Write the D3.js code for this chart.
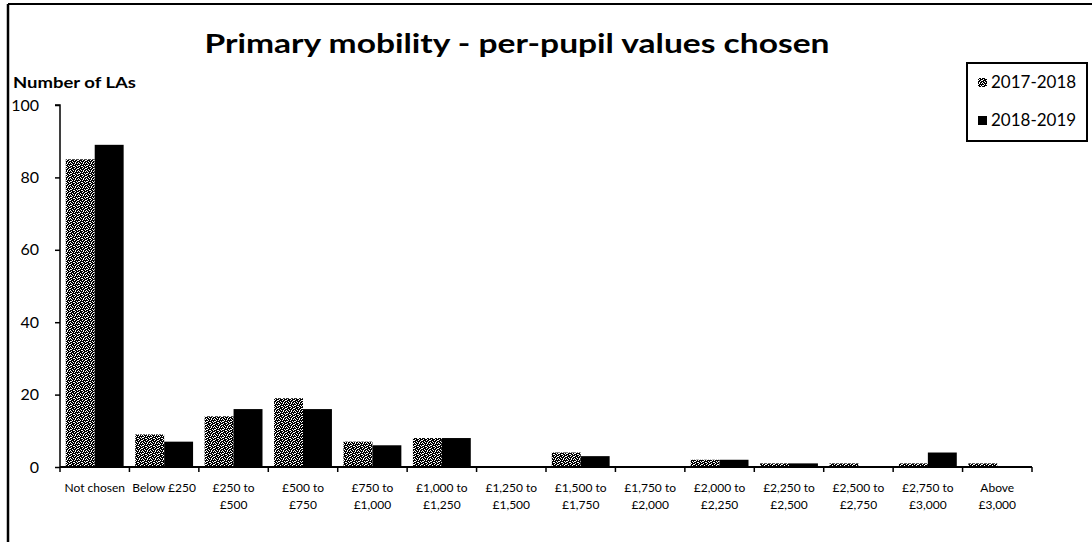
<!DOCTYPE html>
<html>
<head>
<meta charset="utf-8">
<script src="https://cdn.jsdelivr.net/npm/d3@7"></script>
<style>
  html, body { margin: 0; padding: 0; background: #fff; }
  svg { display: block; }
  text { font-family: Lato, "Open Sans", sans-serif; fill: #000; }
</style>
</head>
<body>
<div id="chart"></div>
<script>
// Primary mobility - per-pupil values chosen

const categories = [
  ["Not chosen"],
  ["Below £250"],
  ["£250 to", "£500"],
  ["£500 to", "£750"],
  ["£750 to", "£1,000"],
  ["£1,000 to", "£1,250"],
  ["£1,250 to", "£1,500"],
  ["£1,500 to", "£1,750"],
  ["£1,750 to", "£2,000"],
  ["£2,000 to", "£2,250"],
  ["£2,250 to", "£2,500"],
  ["£2,500 to", "£2,750"],
  ["£2,750 to", "£3,000"],
  ["Above", "£3,000"]
];
const seriesNames = ["2017-2018", "2018-2019"];
const values2017 = [85, 9, 14, 19, 7, 8, 0, 4, 0, 2, 1, 1, 1, 1];
const values2018 = [89, 7, 16, 16, 6, 8, 0, 3, 0, 2, 1, 0, 4, 0];
const yTicks = [0, 20, 40, 60, 80, 100];

const width = 1092;
const height = 542;
const margin = { top: 105, right: 60, bottom: 75, left: 60 };

const svg = d3.select("#chart")
  .append("svg")
  .attr("width", width)
  .attr("height", height);

// motif pointillé pour la série 2017-2018
const dither = [
  "11011001",
  "01110111",
  "10101101",
  "11101010",
  "01011111",
  "11110100",
  "10011011",
  "11101110"
];
const pat = svg.append("defs").append("pattern")
  .attr("id", "speckle")
  .attr("patternUnits", "userSpaceOnUse")
  .attr("width", 8)
  .attr("height", 8);
pat.append("rect").attr("width", 8).attr("height", 8).attr("fill", "#000");
dither.forEach((row, j) => {
  row.split("").forEach((c, i) => {
    if (c === "0") {
      pat.append("rect")
        .attr("x", i).attr("y", j)
        .attr("width", 1).attr("height", 1)
        .attr("fill", "#fff");
    }
  });
});

// cadre
svg.append("line")
  .attr("x1", 8).attr("x2", width).attr("y1", 4).attr("y2", 4)
  .attr("stroke", "#000").attr("stroke-width", 2);
svg.append("line")
  .attr("x1", 8).attr("x2", 8).attr("y1", 4).attr("y2", height)
  .attr("stroke", "#000").attr("stroke-width", 2.5);

// titre
svg.append("text")
  .attr("x", 517)
  .attr("y", 53)
  .attr("text-anchor", "middle")
  .attr("textLength", 625)
  .attr("lengthAdjust", "spacingAndGlyphs")
  .style("font-size", "27px")
  .style("font-weight", "bold")
  .text("Primary mobility - per-pupil values chosen");

svg.append("text")
  .attr("x", 13)
  .attr("y", 88)
  .attr("textLength", 123)
  .attr("lengthAdjust", "spacingAndGlyphs")
  .style("font-size", "16px")
  .style("font-weight", "bold")
  .text("Number of LAs");

const x0 = d3.scaleBand()
  .domain(d3.range(categories.length))
  .range([margin.left, width - margin.right])
  .paddingInner(0)
  .paddingOuter(0);

const x1 = d3.scaleBand()
  .domain([0, 1])
  .range([0, x0.bandwidth()])
  .paddingOuter(0.2)
  .paddingInner(0);

const y = d3.scaleLinear()
  .domain([0, 100])
  .range([height - margin.bottom, margin.top]);

// Axe Y
const yAxis = svg.append("g")
  .attr("transform", `translate(${margin.left},0)`)
  .call(d3.axisLeft(y).tickValues(yTicks).tickSize(5).tickPadding(16));
yAxis.selectAll("path, line").attr("stroke", "#000").attr("stroke-width", 1.5);
yAxis.select(".domain").attr("d", `M-5,${y(100)}H0V${y(0)}`);
yAxis.selectAll("text")
  .style("font-size", "16px")
  .style("font-family", "Lato, sans-serif");

// Barres
const series = [values2017, values2018];
const fills = ["url(#speckle)", "#000"];
series.forEach((vals, s) => {
  svg.append("g")
    .selectAll("rect")
    .data(vals)
    .join("rect")
    .attr("x", (d, i) => x0(i) + x1(s))
    .attr("width", x1.bandwidth())
    .attr("y", d => y(d))
    .attr("height", d => y(0) - y(d))
    .attr("fill", fills[s]);
});

// Axe X
const xAxis = svg.append("g")
  .attr("transform", `translate(0,${y(0)})`);
xAxis.append("line")
  .attr("x1", x0.range()[0]).attr("x2", x0.range()[1])
  .attr("stroke", "#000").attr("stroke-width", 2);
const boundaries = d3.range(categories.length + 1)
  .map(i => x0.range()[0] + i * x0.step());
xAxis.selectAll("line.tick")
  .data(boundaries)
  .join("line")
  .attr("class", "tick")
  .attr("x1", d => d).attr("x2", d => d)
  .attr("y1", 0).attr("y2", 5)
  .attr("stroke", "#000").attr("stroke-width", 1.5);

const labels = xAxis.selectAll("text.xlab")
  .data(categories)
  .join("text")
  .attr("class", "xlab")
  .attr("x", (d, i) => x0(i) + x0.bandwidth() / 2)
  .attr("y", 25)
  .attr("text-anchor", "middle")
  .style("font-size", "12px");
labels.each(function(lines) {
  const t = d3.select(this);
  lines.forEach((l, k) => {
    t.append("tspan")
      .attr("x", t.attr("x"))
      .attr("dy", k === 0 ? 0 : 17)
      .text(l);
  });
});

// Légende
const legend = svg.append("g");
legend.append("rect")
  .attr("x", 967).attr("y", 63)
  .attr("width", 120).attr("height", 78)
  .attr("fill", "#fff")
  .attr("stroke", "#000").attr("stroke-width", 2);
seriesNames.forEach((name, s) => {
  const ly = 82 + s * 38;
  legend.append("rect")
    .attr("x", 978).attr("y", ly - 4)
    .attr("width", 9).attr("height", 9)
    .attr("fill", fills[s]);
  legend.append("text")
    .attr("x", 991).attr("y", ly + 6)
    .style("font-size", "17px")
    .text(name);
});
</script>
</body>
</html>
